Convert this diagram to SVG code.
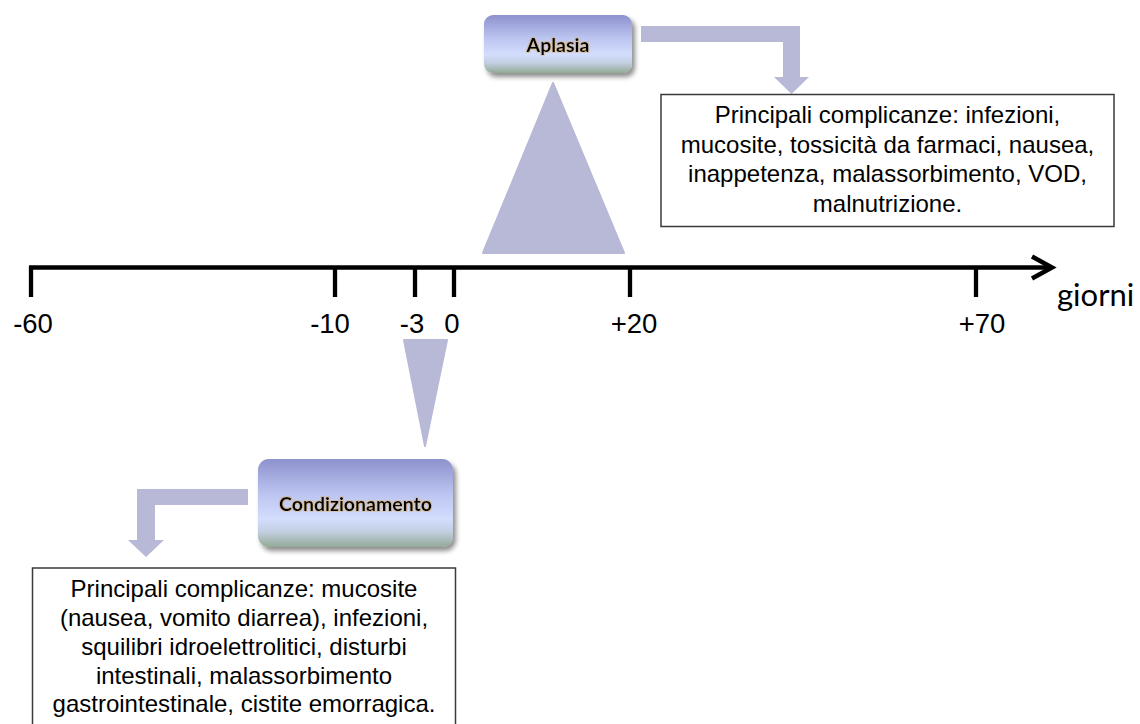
<svg xmlns="http://www.w3.org/2000/svg" width="1140" height="724" viewBox="0 0 1140 724">
  <defs>
    <linearGradient id="boxGrad" x1="0" y1="0" x2="0" y2="1">
      <stop offset="0" stop-color="#8d91cd"/>
      <stop offset="0.4" stop-color="#bcc5f0"/>
      <stop offset="0.68" stop-color="#d3ddfd"/>
      <stop offset="0.82" stop-color="#c3d0e3"/>
      <stop offset="1" stop-color="#93aa96"/>
    </linearGradient>
    <filter id="shadow" x="-10%" y="-10%" width="130%" height="140%">
      <feGaussianBlur in="SourceAlpha" stdDeviation="2.5"/>
      <feOffset dx="3" dy="4" result="b"/>
      <feComponentTransfer><feFuncA type="linear" slope="0.45"/></feComponentTransfer>
      <feMerge><feMergeNode/><feMergeNode in="SourceGraphic"/></feMerge>
    </filter>
    <filter id="glow" x="-10%" y="-20%" width="120%" height="140%">
      <feMorphology in="SourceAlpha" operator="dilate" radius="0.5" result="d"/>
      <feFlood flood-color="#d9a441" flood-opacity="0.35"/>
      <feComposite in2="d" operator="in" result="g"/>
      <feMerge><feMergeNode in="g"/><feMergeNode in="SourceGraphic"/></feMerge>
    </filter>
  </defs>
  <style>
    .axis { stroke: #000; stroke-width: 4.5; fill: none; }
    .tick { stroke: #000; stroke-width: 4.3; }
    .num { font-family: "Liberation Sans", Arial, sans-serif; font-size: 27.5px; fill: #000; text-anchor: middle; }
    .unit { font-family: Lato, "Open Sans", sans-serif; font-size: 31px; fill: #000; }
    .shape { fill: #b8b8d7; }
    .node { fill: url(#boxGrad); filter: url(#shadow); }
    .nlabel { font-family: Lato, "Open Sans", sans-serif; font-weight: bold; font-size: 19.5px; fill: #000; text-anchor: middle; }
    .note { fill: #fff; stroke: #3a3a3a; stroke-width: 1.5; }
    .ntext { font-family: "Liberation Sans", Arial, sans-serif; font-size: 24px; fill: #000; text-anchor: middle; }
  </style>

  <g id="timeline">
    <line class="axis" x1="29" y1="267.5" x2="1051" y2="267.5"/>
    <polyline class="axis" points="1032,256.5 1052,267.5 1032,278.5" stroke-linejoin="miter"/>
    <line class="tick" x1="31" y1="266" x2="31" y2="297"/>
    <line class="tick" x1="335" y1="266" x2="335" y2="297"/>
    <line class="tick" x1="415" y1="266" x2="415" y2="297"/>
    <line class="tick" x1="454" y1="266" x2="454" y2="297"/>
    <line class="tick" x1="630" y1="266" x2="630" y2="297"/>
    <line class="tick" x1="976" y1="266" x2="976" y2="297"/>
    <text class="num" x="33" y="333">-60</text>
    <text class="num" x="330" y="333">-10</text>
    <text class="num" x="412" y="333">-3</text>
    <text class="num" x="452" y="333">0</text>
    <text class="num" x="634" y="333">+20</text>
    <text class="num" x="982" y="333">+70</text>
    <text class="unit" x="1057" y="306">giorni</text>
  </g>

  <g id="markers">
    <polygon class="shape" points="553,83 624,253 483,253" stroke="#b8b8d7" stroke-width="2" stroke-linejoin="round"/>
    <polygon class="shape" points="404,340 447,340 425,446" stroke="#b8b8d7" stroke-width="2" stroke-linejoin="round"/>
  </g>

  <g id="connectors">
    <path class="shape" d="M641,26 H800 V77 H809 L791.5,94 L774,77 H783 V42 H641 Z"/>
    <path class="shape" d="M248,489 H137 V540 H128 L146,557 L164,540 H155 V505 H248 Z"/>
  </g>

  <g id="node-aplasia">
    <rect class="node" x="484" y="15" width="148" height="58" rx="9"/>
    <text class="nlabel" x="558" y="52" filter="url(#glow)">Aplasia</text>
  </g>

  <g id="node-condizionamento">
    <rect class="node" x="258" y="459" width="195" height="88" rx="11"/>
    <text class="nlabel" x="355.5" y="511" filter="url(#glow)">Condizionamento</text>
  </g>

  <g id="note-aplasia">
    <rect class="note" x="661" y="94.5" width="453" height="132"/>
    <text class="ntext" x="887.5" y="123">Principali complicanze: infezioni,</text>
    <text class="ntext" x="887.5" y="152.5">mucosite, tossicità da farmaci, nausea,</text>
    <text class="ntext" x="887.5" y="182">inappetenza, malassorbimento, VOD,</text>
    <text class="ntext" x="887.5" y="211.5">malnutrizione.</text>
  </g>

  <g id="note-condizionamento">
    <rect class="note" x="32.5" y="568" width="423" height="170"/>
    <text class="ntext" x="244" y="597">Principali complicanze: mucosite</text>
    <text class="ntext" x="244" y="626">(nausea, vomito diarrea), infezioni,</text>
    <text class="ntext" x="244" y="655">squilibri idroelettrolitici, disturbi</text>
    <text class="ntext" x="244" y="683.5">intestinali, malassorbimento</text>
    <text class="ntext" x="244" y="712">gastrointestinale, cistite emorragica.</text>
  </g>
</svg>
